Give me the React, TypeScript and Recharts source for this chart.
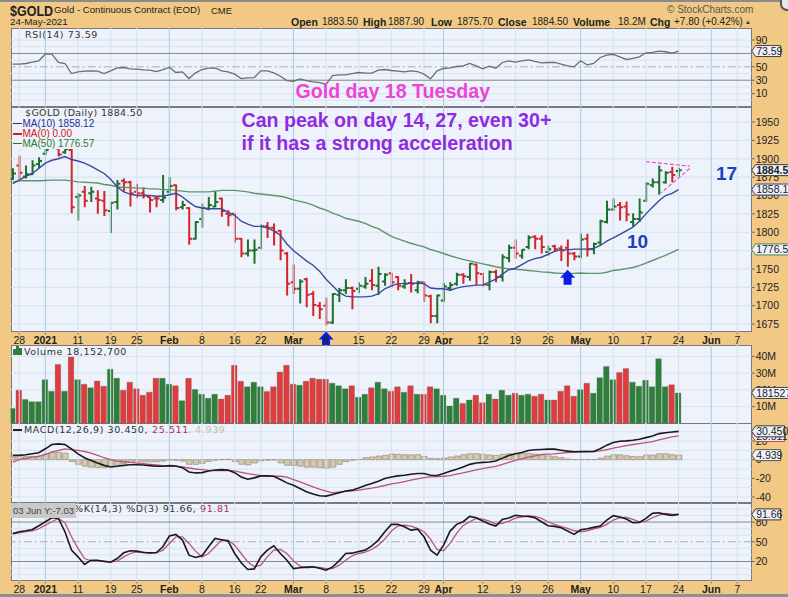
import {
  Bar,
  CartesianGrid,
  Cell,
  ComposedChart,
  Line,
  ReferenceDot,
  ReferenceLine,
  XAxis,
  YAxis,
} from "recharts";

// bar colours, same for price and volume (g = up, r = down)
const directions = [
  "g","r","g","g","g","g","g","r","g","r",
  "g","r","g","r","r","g","g","r","r","r",
  "r","r","r","g","g","r","g","r","g","g",
  "g","g","r","r","r","r","g","g","g","r",
  "r","r","r","r","g","r","r","r","r","g",
  "g","g","r","g","g","r","g","g","r","r",
  "g","r","g","r","r","g","g","g","g","r",
  "g","r","r","g","r","g","g","r","g","g",
  "r","r","g","r","r","r","r","g","r","g",
  "g","g","g","r","r","g","g","g","g","g",
  "g","r","g",
];

const highs = [
  1887,1904,1891,1898,1902,1921,1930,1923,1925,1925,
  1853,1863,1862,1857,1856,1841,1871,1873,1870,1866,
  1861,1848,1848,1878,1875,1865,1843,1834,1815,1839,
  1848,1856,1847,1830,1826,1792,1790,1790,1811,1814,
  1812,1803,1773,1756,1736,1738,1720,1705,1711,1717,
  1724,1736,1726,1732,1739,1750,1753,1744,1745,1740,
  1736,1743,1734,1733,1715,1715,1731,1732,1745,1744,
  1758,1757,1745,1748,1749,1770,1783,1790,1777,1796,
  1796,1796,1782,1783,1782,1790,1773,1798,1798,1786,
  1817,1843,1846,1841,1842,1826,1846,1868,1873,1891,
  1883,1889,1887.9,
];
const lows = [
  1871,1871,1873,1878,1887,1905,1914,1903,1907,1826,
  1816,1834,1841,1825,1822,1799,1831,1855,1835,1846,
  1846,1827,1834,1840,1853,1830,1831,1783,1790,1806,
  1830,1834,1821,1808,1786,1766,1767,1757,1777,1792,
  1782,1762,1714,1716,1703,1698,1686,1682,1673,1675,
  1705,1716,1695,1717,1723,1721,1715,1727,1725,1721,
  1723,1718,1717,1705,1676,1676,1705,1720,1727,1730,
  1734,1728,1726,1721,1732,1733,1759,1764,1764,1777,
  1777,1771,1768,1773,1761,1753,1762,1765,1767,1770,
  1782,1812,1829,1816,1815,1808,1814,1841,1861,1851,
  1866,1868,1875.7,
];
const opens = [
  1873,1891,1876,1879,1893,1907,1916,1914,1909,1912,
  1848,1855,1853,1846,1843,1829,1841,1870,1868,1855,
  1853,1848,1846,1844,1855,1864,1834,1833,1791,1818,
  1832,1835,1846,1825,1825,1791,1771,1775,1779,1808,
  1806,1802,1771,1732,1723,1736,1716,1700,1700,1677,
  1715,1721,1724,1723,1726,1734,1727,1733,1744,1739,
  1726,1731,1721,1732,1713,1686,1707,1724,1730,1742,
  1739,1756,1743,1728,1746,1739,1765,1779,1768,1780,
  1794,1791,1773,1781,1778,1779,1771,1767,1791,1777,
  1786,1814,1831,1837,1835,1814,1818,1843,1864,1868,
  1868,1882,1883.5,
];
const closes = [
  1880,1881,1879,1891,1897,1912,1923,1906,1913,1834,
  1850,1843,1855,1844,1830,1840,1866,1868,1853,1853,
  1850,1844,1846,1847,1863,1833,1837,1791,1814,1833,
  1837,1841,1829,1823,1791,1771,1775,1776,1808,1806,
  1800,1775,1730,1723,1733,1715,1701,1695,1677,1716,
  1721,1724,1720,1727,1730,1728,1743,1742,1732,1727,
  1730,1730,1732,1714,1686,1714,1726,1728,1742,1740,
  1757,1744,1729,1746,1739,1766,1779,1771,1776,1793,
  1791,1780,1777,1777,1775,1771,1767,1790,1777,1784,
  1815,1831,1835,1834,1824,1818,1827,1866,1868,1884,
  1881,1878,1884.5,
];
const ma10 = [
  1866,1871,1876,1880,1887,1894,1898,1900,1903,1899,
  1897,1894,1890,1885,1880,1872,1862,1855,1852,1850,
  1850,1850,1849,1849,1851,1853,1848,1841,1835,1833,
  1832,1832,1832,1827,1823,1815,1811,1808,1808,1806,
  1802,1796,1784,1775,1768,1761,1755,1747,1736,1727,
  1718,1713,1712,1712,1712,1713,1716,1723,1727,1730,
  1730,1730.5,1730.5,1730,1724,1723,1723,1721,1724,1726,
  1727,1728,1728,1732,1736,1743,1749,1751,1756,1761,
  1764,1766,1770,1774,1776,1776,1777,1777,1777,1778,
  1782,1788,1792.4,1797,1802,1807,1815,1825,1834,1843,
  1850,1853,1858.12,
];
const ma50 = [
  1868,1870,1870,1870,1870,1870.5,1871,1871,1871,1870,
  1868.5,1868,1867.5,1867,1865,1864,1862,1861,1861,1860,
  1860,1859,1859,1858,1858,1857,1856,1855,1855,1855,
  1855,1856,1857,1857,1857,1856,1855,1853,1852,1851,
  1850,1849,1847,1844,1842,1840,1837,1833,1830,1826,
  1823,1819,1817,1815,1812,1808,1805,1799.5,1794.5,1791,
  1788,1785,1782.5,1780,1776.5,1774,1771,1768,1765.5,1763,
  1761,1759,1757,1755,1753,1751.5,1750,1749.5,1749,1748,
  1747,1746,1745.5,1744.5,1744,1744,1744,1744.5,1744,1744,
  1744,1745.5,1748,1749,1750.5,1752,1754.5,1758,1761.5,1765,
  1768.5,1772.5,1776.57,
];
const rsi = [
  54,54,55,57,59,69,69,56.5,55,40,
  42.5,43.5,44,43.5,40,44,48.5,49,47,46.5,
  45.5,45,43,46,49,41.5,42.5,32.5,41,46,
  48,48.5,44,42.5,39,32.5,33.5,34,44,44,
  41,36,29.5,28.5,32,29.5,27.5,26.5,24,37,
  38,38,40,41.5,40.5,40.5,45,46,44.5,43.5,
  42.5,44,43,39,32,44,47.5,48.5,50.5,51.5,
  55,51.5,47,51,48,56.5,59,57,59,60.5,
  58,56,56.5,56.5,54,51.5,50,59,53,55,
  64,67.5,68.5,65,61,62.5,65,71,71.5,73.5,
  72.5,70.5,73.59,
];
const volumes = [
  8.9,19.8,14.3,12.9,12.9,26.1,19.2,35.2,19.2,39.6,
  26.1,23.4,21.2,25.3,22.2,32.3,26.9,19.8,24.6,20.6,
  16.8,18.6,26.9,26.9,23.4,22.4,13.5,26.9,20.2,17.4,
  15,17.4,14.5,16.8,34.7,25.1,21.8,24.6,21.8,19,
  21.8,30.7,34.7,23.4,22.8,25.1,26.9,26.3,26.3,24,
  22.4,20.6,22.4,15.6,17.4,21.2,24.6,20.6,19.2,21.8,
  18.6,22.4,17.4,17.4,21.8,20.6,16.8,10.3,15,11.9,
  13.9,16.8,12.3,17.4,14.5,19.8,16.8,18,16.8,17.4,
  16.2,17.4,13.9,13.9,19.2,22.4,16.2,20,24,18,
  27.3,34,26.1,30.3,32.7,24.6,22.2,25.7,21.8,38.6,
  21.8,23,18.15,
];
const macd = [
  4.6,4.6,5.3,6.3,7.4,11.7,16.3,17,16.3,11.7,
  6.3,2.1,-0.8,-3.6,-6.1,-7.8,-7.1,-6.1,-5.4,-5.4,
  -5.7,-6.4,-7.1,-7.1,-6.4,-6.8,-8.6,-13.2,-14.2,-13.9,
  -12.1,-11,-10.7,-11,-13.9,-18.5,-21,-19.5,-17.4,-17.4,
  -17.8,-21.3,-24.9,-27.4,-30.9,-34.4,-36.9,-38.7,-39.1,-37.3,
  -35.5,-33.7,-32.7,-30.5,-27.7,-25.6,-23.1,-20.3,-18.5,-17.4,
  -16.7,-15.6,-14.9,-14.9,-16.7,-17,-14.9,-12.5,-10.3,-7.8,
  -5,-3.6,-2.9,-2.5,-1.5,1.7,4.6,6.3,7.7,9.9,
  10.6,11,11.3,11.3,10.2,9.2,8.5,8.8,8.8,8.8,
  11.7,15.6,18.4,19.8,20.2,20.9,21.9,23.7,25.5,28,
  29,29.7,30.45,
];
const macdSignal = [
  -2.5,0,1.4,2.8,3.5,5.6,8.1,9.9,11.7,10.9,
  9.9,8.8,7,4.6,2.1,0,-1.5,-2.2,-2.9,-3.6,
  -4.3,-5,-5.7,-6.4,-6.8,-7.1,-7.8,-8.9,-10,-10.7,
  -11.4,-11.8,-11.8,-11.8,-12.1,-13.5,-15,-16,-17.1,-17.8,
  -17.8,-17.8,-18.8,-21.3,-23.8,-26.6,-29.1,-31.6,-33.7,-35.5,
  -34.8,-34.1,-33.4,-32.7,-31.6,-30.5,-29.1,-27.7,-26,-24.9,
  -23.5,-22,-20.6,-19.2,-18.5,-18.1,-17.8,-17.1,-15.6,-14.2,
  -12.5,-11,-9.6,-8.2,-7.1,-5,-2.9,-0.8,1,2.8,
  4.2,5.6,6,6.3,7,7.7,8.1,8.1,8.5,8.8,
  9.5,10.9,12.4,13.8,15.2,16.3,17.3,18.4,19.5,21.2,
  23,24.4,25.51,
];
const macdHist = [
  3,3,3.5,3.5,4,6,8,8,7,-2,
  -5,-7,-8,-8.5,-8.5,-7.5,-6,-4,-3,-2.5,
  -2.3,-2.3,-2.2,-1.5,-0.4,-0.6,-1.5,-5,-5,-3.8,
  -1.8,-0.4,0.2,0.4,-2,-4.9,-5.6,-3.5,-1.2,-0.5,
  -0.3,-3.5,-6,-6.1,-7,-8,-8,-8.5,-9,-8,
  -5,-2,-0.5,0.3,2,2.9,3.9,4.6,6,5.7,
  5.3,5.3,5.3,3.5,1.4,1,1.8,2.8,3.9,5.3,
  6.4,6.4,5.7,5,4.6,5.7,6.4,6.4,7,6.8,
  6,5.3,4.2,3.2,2.1,0.7,0.2,0.2,0.2,0.2,
  1.8,3.9,5.3,5.3,4.2,3.5,3.2,5,5,6.4,
  6.4,5.3,4.94,
];
const stochK = [
  62.7,65.3,66.8,68.8,74.4,80.5,86.6,85.6,65.3,37.3,
  27.1,15.4,22,22,20,19,24.6,33.2,36.3,35.8,
  33.7,33.2,33.7,42.4,58.7,61.2,52.6,29.7,26.1,28.7,
  42.4,55.1,53.1,51,32.2,18,7.8,8.8,27.1,37.3,
  43.9,32.2,22,9.3,10.4,11.4,11.9,9.9,6.8,11.9,
  21,32.2,32.7,35.3,37.3,43.9,52.6,65.3,76.5,76.5,
  72.9,67.8,69.3,57.6,37.3,29.7,44.9,66.3,76.5,80.5,
  88.7,86.6,81.5,77,73.9,84.1,86.1,90.2,89.2,88.7,
  86.6,80.5,74.4,73.4,71.4,66.3,61.2,68.3,69.8,71.9,
  73.9,83.1,89.7,87.6,84.6,79,79.5,85.6,93.2,94.2,
  91.7,90.2,91.66,
];
const stochD = [
  61.7,63.7,65.3,66.8,69.8,75.4,80.5,85.6,79,57.6,
  39.9,24.6,21,21,21,19.5,20.5,27.1,32.2,34.8,
  34.3,33.2,33.2,37.3,47.5,57.6,57.6,47.5,35.8,27.1,
  32.2,42.4,52.6,52.6,44.9,32.2,19.5,11.9,14.4,27.1,
  37.3,38.3,32.2,21,12.9,10.4,11.4,10.9,9.3,9.3,
  14.4,22,28.7,32.2,34.3,38.3,44.9,54.1,66.3,73.9,
  75.4,73.9,70.4,65.3,54.1,38.3,36.3,47.5,62.7,74.9,
  80.5,85.6,84.6,81.5,77,78,81.5,86.1,88.1,89.2,
  88.7,85.6,80.5,76.5,72.9,70.4,66.8,65.3,66.8,69.8,
  71.9,76.5,83.1,86.6,87.1,84.1,80.5,81.5,86.6,90.7,
  93.2,92.2,91.81,
];

// date axis: position in trading days and its label
const tickPositions = [1,5,10,15,19,24,29,34,38,43,48,53,58,63,66,72,77,82,87,92,97,102,107,111];
const tickLabels = ["28","2021","11","19","25","Feb","8","16","22","Mar","8","15","22","29","Apr","12","19","26","May","10","17","24","Jun","7"];
const boldLabels = ["2021","Feb","Mar","Apr","May","Jun"];
const monthTicks = [5,24,43,66,87,107];
const dayTicks = tickPositions.filter((t) => !monthTicks.includes(t));

const rsiTicks = [90,50,30,10];
const priceTicks = [1950,1925,1900,1875,1850,1825,1800,1750,1725,1700,1675];
const priceGrid = [1950,1925,1900,1875,1850,1825,1800,1775,1750,1725,1700,1675];
const volumeTicks = [40,30,20,10];
const macdTicks = [20,0,-20,-40];
const stochTicks = [80,50,20];

const priceRows = highs.map((h, i) => ({
  i,
  range: [lows[i], h],
  open: opens[i],
  close: closes[i],
  high: h,
  low: lows[i],
  dir: directions[i],
  ma10: ma10[i],
  ma50: ma50[i],
}));
const rsiRows = rsi.map((v, i) => ({ i, v }));
const volumeRows = volumes.map((v, i) => ({ i, v, dir: directions[i] }));
const macdRows = macd.map((v, i) => ({ i, v, s: macdSignal[i], h: macdHist[i] }));
const stochRows = stochK.map((k, i) => ({ i, k, d: stochD[i] }));

const W = 788;
const PLOT_L = 10.7;
const PLOT_R = 751.7;
const X_DOMAIN: [number, number] = [-0.31, 113.2];
const MARGIN = { top: 0, right: 0, left: PLOT_L, bottom: 0 };
const SANS = "'Liberation Sans', Arial, sans-serif";
const WIDE = "'DejaVu Sans', sans-serif";
const TAN = "#f1c985";
const PLOT_BG = "#eef2fb";
const EDGE = "#77797f";

const UP = "#1d6f2c";
const DOWN = "#d2252b";

const RSI_DOMAIN: [number, number] = [-10, 108];
const PRICE_DOMAIN: [number, number] = [1663.5, 1970.5];
const VOLUME_DOMAIN: [number, number] = [-0.4, 46.8];
const MACD_DOMAIN: [number, number] = [-46.5, 39.4];
const STOCH_DOMAIN: [number, number] = [-10.4, 109];

const OhlcBar = (props: any) => {
  const { x, y, width, height, payload } = props;
  const top = Math.min(y, y + height);
  const h = Math.abs(height);
  const cx = x + width / 2;
  const yOf = (v: number) => top + ((payload.high - v) / (payload.high - payload.low)) * h;
  const color = payload.dir === "g" ? UP : DOWN;
  return (
    <g stroke={color} strokeWidth={2}>
      <line x1={cx} x2={cx} y1={top} y2={top + h} />
      <line x1={cx - 3} x2={cx} y1={yOf(payload.open)} y2={yOf(payload.open)} />
      <line x1={cx} x2={cx + 3} y1={yOf(payload.close)} y2={yOf(payload.close)} />
    </g>
  );
};

const DateTick = (props: any) => {
  const { x, y, index } = props;
  const label = tickLabels[index];
  return (
    <text
      x={x}
      y={y + 7}
      textAnchor="middle"
      fontFamily={SANS}
      fontSize={10.5}
      fontWeight={boldLabels.includes(label) ? 700 : 400}
      fill="#222"
    >
      {label}
    </text>
  );
};

const tag = (text: string, stroke: string, bold = false) => (props: any) => {
  const { cx, cy } = props;
  const w = text.length <= 5 ? 29 : text.length === 6 ? 33 : 40;
  return (
    <g>
      <polygon
        points={`${cx},${cy} ${cx + 4},${cy - 5.5} ${cx + w},${cy - 5.5} ${cx + w},${cy + 5.5} ${cx + 4},${cy + 5.5}`}
        fill={PLOT_BG}
        stroke={stroke}
        strokeWidth={1}
      />
      <text x={cx + 4.5} y={cy + 3.8} fontFamily={SANS} fontSize={10.5} fontWeight={bold ? 700 : 400} fill="#222">
        {text}
      </text>
    </g>
  );
};

const arrow = (props: any) => {
  const { cx, cy } = props;
  const pts = [
    [cx, cy],
    [cx + 7.5, cy + 8],
    [cx + 4, cy + 8],
    [cx + 4, cy + 15],
    [cx - 4, cy + 15],
    [cx - 4, cy + 8],
    [cx - 7.5, cy + 8],
  ];
  return <polygon points={pts.map((p) => p.join(",")).join(" ")} fill="#0a1ee6" />;
};

const verticals = (prefix: string) => [
  ...dayTicks.map((t) => <ReferenceLine key={`${prefix}d${t}`} x={t} stroke="#d3e2ef" strokeWidth={1} />),
  ...monthTicks.map((t) => <ReferenceLine key={`${prefix}m${t}`} x={t} stroke="#a6cbe6" strokeWidth={1} />),
];

const yTick = { fontFamily: SANS, fontSize: 10.5, fill: "#222" };

const plotBox = (top: number, height: number) => (
  <div
    key={top}
    style={{
      position: "absolute",
      left: PLOT_L,
      top,
      width: PLOT_R - PLOT_L,
      height,
      background: PLOT_BG,
      boxSizing: "border-box",
      border: `1px solid ${EDGE}`,
    }}
  />
);

// value tags sit on their own layer so they cover the axis labels, same scales as the panel below them
const tagLayer = (top: number, height: number, domain: [number, number], tags: [number, any][]) => (
  <ComposedChart
    width={W}
    height={height}
    data={[]}
    margin={{ top: 0, left: PLOT_L, right: W - PLOT_R, bottom: 0 }}
    style={{ position: "absolute", left: 0, top, overflow: "visible" }}
  >
    <XAxis type="number" dataKey="i" domain={X_DOMAIN} allowDataOverflow hide />
    <YAxis domain={domain} allowDataOverflow hide />
    {tags.map(([v, shape]) => (
      <ReferenceDot key={v} x={X_DOMAIN[1]} y={v} ifOverflow="visible" shape={shape} />
    ))}
  </ComposedChart>
);

const txt = (
  s: string,
  left: number,
  top: number,
  size: number,
  color = "#222",
  bold = false,
  family = SANS,
  extra: any = {},
) => (
  <div
    style={{
      position: "absolute",
      left,
      top,
      fontSize: size,
      color,
      fontWeight: bold ? 700 : 400,
      fontFamily: family,
      lineHeight: 1,
      whiteSpace: "pre",
      ...extra,
    }}
  >
    {s}
  </div>
);

const App = () => {
  const sp = { letterSpacing: 0.6 };
  return (
    <div style={{ position: "absolute", left: 0, top: 0, width: W, height: 597, background: TAN, overflow: "hidden" }}>
      <div style={{ position: "absolute", left: 0, top: 0, width: W, height: 1.5, background: "#8a8a8a" }} />
      <div style={{ position: "absolute", left: 0, top: 594, width: W, height: 3, background: "#8d8f92" }} />
      <div style={{ position: "absolute", left: 780, top: -7, width: 14, height: 14, borderRadius: 7, background: "#e8e8e8", border: "2px solid #555" }} />

      {plotBox(28, 79)}
      {plotBox(106.5, 225.5)}
      {plotBox(344.5, 79)}
      {plotBox(423, 80)}
      {plotBox(502.5, 78.5)}

      {/* RSI */}
      <ComposedChart width={W} height={79} data={rsiRows} margin={MARGIN} style={{ position: "absolute", left: 0, top: 28 }}>
        <CartesianGrid vertical={false} horizontalValues={[90,80,60,40,20,10,0]} stroke="#d8e3ef" />
        {verticals("r")}
        <XAxis dataKey="i" type="number" domain={X_DOMAIN} allowDataOverflow hide />
        <YAxis orientation="right" width={W - PLOT_R} domain={RSI_DOMAIN} allowDataOverflow ticks={rsiTicks} interval={0} tick={yTick} tickSize={3} tickMargin={1} axisLine={false} tickLine={{ stroke: "#666" }} />
        <ReferenceLine y={70} stroke="#85878c" strokeWidth={1} />
        <ReferenceLine y={30} stroke="#85878c" strokeWidth={1} />
        <ReferenceLine y={50} stroke="#a9abb0" strokeWidth={1} strokeDasharray="8 3 2 3" />
        <Line dataKey="v" type="linear" stroke="#6d6d6d" strokeWidth={1.3} dot={false} isAnimationActive={false} />
      </ComposedChart>

      {/* Price */}
      <ComposedChart width={W} height={238} data={priceRows} margin={MARGIN} style={{ position: "absolute", left: 0, top: 106.5, overflow: "visible" }}>
        <CartesianGrid vertical={false} horizontalValues={priceGrid} stroke="#d3e2ef" />
        {verticals("p")}
        <XAxis dataKey="i" type="number" domain={X_DOMAIN} allowDataOverflow ticks={tickPositions} interval={0} height={12.5} tick={<DateTick />} tickSize={2} axisLine={false} tickLine={{ stroke: "#777" }} />
        <YAxis orientation="right" width={W - PLOT_R} domain={PRICE_DOMAIN} allowDataOverflow ticks={priceTicks} interval={0} tick={yTick} tickSize={3} tickMargin={1} axisLine={false} tickLine={{ stroke: "#666" }} />
        <Bar dataKey="range" barSize={5} shape={<OhlcBar />} isAnimationActive={false} />
        <Line dataKey="ma50" type="linear" stroke="#5f9468" strokeWidth={1.4} dot={false} isAnimationActive={false} />
        <Line dataKey="ma10" type="linear" stroke="#3b4a9c" strokeWidth={1.4} dot={false} isAnimationActive={false} />
        <ReferenceLine segment={[{ x: 97, y: 1896 }, { x: 103.7, y: 1890 }]} stroke="#e84fd0" strokeWidth={1.2} strokeDasharray="4 2" ifOverflow="visible" />
        <ReferenceLine segment={[{ x: 103.7, y: 1886.8 }, { x: 99.3, y: 1853.6 }]} stroke="#e84fd0" strokeWidth={1.2} strokeDasharray="4 2" ifOverflow="visible" />
        <ReferenceDot x={48} y={1665} ifOverflow="visible" shape={arrow} />
        <ReferenceDot x={85} y={1749} ifOverflow="visible" shape={arrow} />
      </ComposedChart>

      {/* Volume */}
      <ComposedChart width={W} height={79} data={volumeRows} margin={MARGIN} style={{ position: "absolute", left: 0, top: 344.5 }}>
        <CartesianGrid vertical={false} horizontalValues={[40,30,20,10]} stroke="#d8e3ef" />
        {verticals("v")}
        <XAxis dataKey="i" type="number" domain={X_DOMAIN} allowDataOverflow hide />
        <YAxis orientation="right" width={W - PLOT_R} domain={VOLUME_DOMAIN} allowDataOverflow ticks={volumeTicks} interval={0} tickFormatter={(v) => `${v}M`} tick={yTick} tickSize={3} tickMargin={1} axisLine={false} tickLine={{ stroke: "#666" }} />
        <Bar dataKey="v" barSize={5.6} stroke="#5c6b5c" strokeWidth={0.3} isAnimationActive={false}>
          {volumeRows.map((r) => (
            <Cell key={r.i} fill={r.dir === "g" ? "#2e7f3a" : "#e03b3d"} />
          ))}
        </Bar>
      </ComposedChart>

      {/* MACD */}
      <ComposedChart width={W} height={80} data={macdRows} margin={MARGIN} style={{ position: "absolute", left: 0, top: 423 }}>
        <CartesianGrid vertical={false} horizontalValues={[30,20,10,0,-10,-20,-30,-40]} stroke="#d8e3ef" />
        {verticals("m")}
        <XAxis dataKey="i" type="number" domain={X_DOMAIN} allowDataOverflow hide />
        <YAxis orientation="right" width={W - PLOT_R} domain={MACD_DOMAIN} allowDataOverflow ticks={macdTicks} interval={0} tick={yTick} tickSize={3} tickMargin={1} axisLine={false} tickLine={{ stroke: "#666" }} />
        <Bar dataKey="h" barSize={5.4} fill="#d6c9ae" stroke="#9d9483" strokeWidth={0.8} isAnimationActive={false} />
        <Line dataKey="s" type="linear" stroke="#b9557a" strokeWidth={1.3} dot={false} isAnimationActive={false} />
        <Line dataKey="v" type="linear" stroke="#1a1a1e" strokeWidth={1.6} dot={false} isAnimationActive={false} />
      </ComposedChart>

      {/* Slow stochastic */}
      <ComposedChart width={W} height={91} data={stochRows} margin={MARGIN} style={{ position: "absolute", left: 0, top: 502.5 }}>
        <CartesianGrid vertical={false} horizontalValues={[100,90,70,60,40,30,10,0]} stroke="#d8e3ef" />
        {verticals("s")}
        <XAxis dataKey="i" type="number" domain={X_DOMAIN} allowDataOverflow ticks={tickPositions} interval={0} height={12.5} tick={<DateTick />} tickSize={2} axisLine={false} tickLine={{ stroke: "#777" }} />
        <YAxis orientation="right" width={W - PLOT_R} domain={STOCH_DOMAIN} allowDataOverflow ticks={stochTicks} interval={0} tick={yTick} tickSize={3} tickMargin={1} axisLine={false} tickLine={{ stroke: "#666" }} />
        <ReferenceLine y={80} stroke="#85878c" strokeWidth={1} />
        <ReferenceLine y={20} stroke="#85878c" strokeWidth={1} />
        <ReferenceLine y={50} stroke="#a9abb0" strokeWidth={1} strokeDasharray="8 3 2 3" />
        <Line dataKey="d" type="linear" stroke="#b9557a" strokeWidth={1.3} dot={false} isAnimationActive={false} />
        <Line dataKey="k" type="linear" stroke="#1a1a1e" strokeWidth={1.6} dot={false} isAnimationActive={false} />
      </ComposedChart>

      {/* Value tags on the axes */}
      {tagLayer(28, 79, RSI_DOMAIN, [[73.59, tag("73.59", "#444")]])}
      {tagLayer(106.5, 225.5, PRICE_DOMAIN, [
        [1776.57, tag("1776.57", "#3f8a4f")],
        [1858.12, tag("1858.12", "#2f3f9c")],
        [1884.5, tag("1884.50", "#333", true)],
      ])}
      {tagLayer(344.5, 79, VOLUME_DOMAIN, [[18.15, tag("18152700", "#444")]])}
      {tagLayer(423, 80, MACD_DOMAIN, [
        [25.51, tag("25.511", "#c2404c")],
        [30.45, tag("30.450", "#333")],
        [4.939, tag("4.939", "#555")],
      ])}
      {tagLayer(502.5, 78.5, STOCH_DOMAIN, [[91.66, tag("91.66", "#333")]])}

      {/* Header */}
      {txt("$GOLD", 10, 4, 12.5, "#222", true, SANS, { transform: "scaleY(1.2)", transformOrigin: "left top" })}
      {txt("Gold - Continuous Contract (EOD)", 54, 5, 9.6)}
      {txt("CME", 211, 5.5, 9.5)}
      {txt("24-May-2021", 10, 17, 9.8)}
      {txt("Open", 291, 17, 10.5, "#222", true)}
      {txt("1883.50", 322, 17, 10)}
      {txt("High", 363, 17, 10.5, "#222", true)}
      {txt("1887.90", 388, 17, 10)}
      {txt("Low", 431, 17, 10.5, "#222", true)}
      {txt("1875.70", 457, 17, 10)}
      {txt("Close", 498, 17, 10.5, "#222", true)}
      {txt("1884.50", 532, 17, 10)}
      {txt("Volume", 573, 17, 10.5, "#222", true)}
      {txt("18.2M", 618, 17, 10)}
      {txt("Chg", 650, 17, 10.5, "#222", true)}
      {txt("+7.80 (+0.42%)", 674, 17, 10)}
      {txt("▲", 745, 19, 6, "#333")}
      {txt("© StockCharts.com", 667, 5, 10, "#555")}

      {/* Panel legends */}
      {txt("RSI(14) 73.59", 25, 30, 9.5, "#333", false, WIDE, sp)}

      <div style={{ position: "absolute", left: 12, top: 108, width: 76, height: 41, background: PLOT_BG }} />
      {txt("$GOLD (Daily) 1884.50", 25, 108, 9.5, "#333", false, WIDE, { letterSpacing: 0.35 })}
      <div style={{ position: "absolute", left: 13, top: 122.5, width: 9, height: 1.5, background: "#1f2f8f" }} />
      {txt("MA(10) 1858.12", 22.5, 118.5, 10, "#1f2f8f")}
      <div style={{ position: "absolute", left: 13, top: 133, width: 9, height: 1.5, background: "#d02020" }} />
      {txt("MA(0) 0.00", 22.5, 129, 10, "#d02020")}
      <div style={{ position: "absolute", left: 13, top: 142.5, width: 9, height: 1.5, background: "#1f7a2f" }} />
      {txt("MA(50) 1776.57", 22.5, 138.5, 10, "#1f7a2f")}

      {txt("Volume 18,152,700", 24, 346.5, 9.5, "#333", false, WIDE, sp)}
      <div style={{ position: "absolute", left: 13, top: 349, width: 2.5, height: 6, background: "#2e7f3a" }} />
      <div style={{ position: "absolute", left: 16, top: 346, width: 2.5, height: 9, background: "#2e7f3a" }} />
      <div style={{ position: "absolute", left: 19, top: 348, width: 2.5, height: 7, background: "#2e7f3a" }} />

      <div style={{ position: "absolute", left: 13, top: 429, width: 9, height: 1.5, background: "#222" }} />
      {txt("MACD(12,26,9) 30.450,", 24, 425, 9.5, "#333", false, WIDE, sp)}
      {txt("25.511", 152, 425, 9.5, "#a8345c", false, WIDE, sp)}
      {txt(", 4.939", 188, 425, 9.5, "#c8bda6", false, WIDE, sp)}

      {txt("%K(14,3) %D(3) 91.66,", 74, 504, 9.5, "#333", false, WIDE, sp)}
      {txt("91.81", 200, 504, 9.5, "#a8345c", false, WIDE, sp)}
      <div style={{ position: "absolute", left: 10.7, top: 502.5, width: 65, height: 15, background: "#c9c9ca" }} />
      {txt("03 Jun Y:-7.03", 13, 505.5, 9.5, "#444")}

      {/* Annotations */}
      {txt("Gold day 18 Tuesday", 295.5, 82, 19.6, "#ea45d8", true)}
      {txt("Can peak on day 14, 27, even 30+", 241.5, 111, 19.6, "#8f2be0", true)}
      {txt("if it has a strong acceleration", 241.5, 134, 19.6, "#8f2be0", true)}
      {txt("10", 627, 232, 19, "#1d3ec4", true)}
      {txt("17", 716, 164, 19, "#1d3ec4", true)}
    </div>
  );
};

export default App;
